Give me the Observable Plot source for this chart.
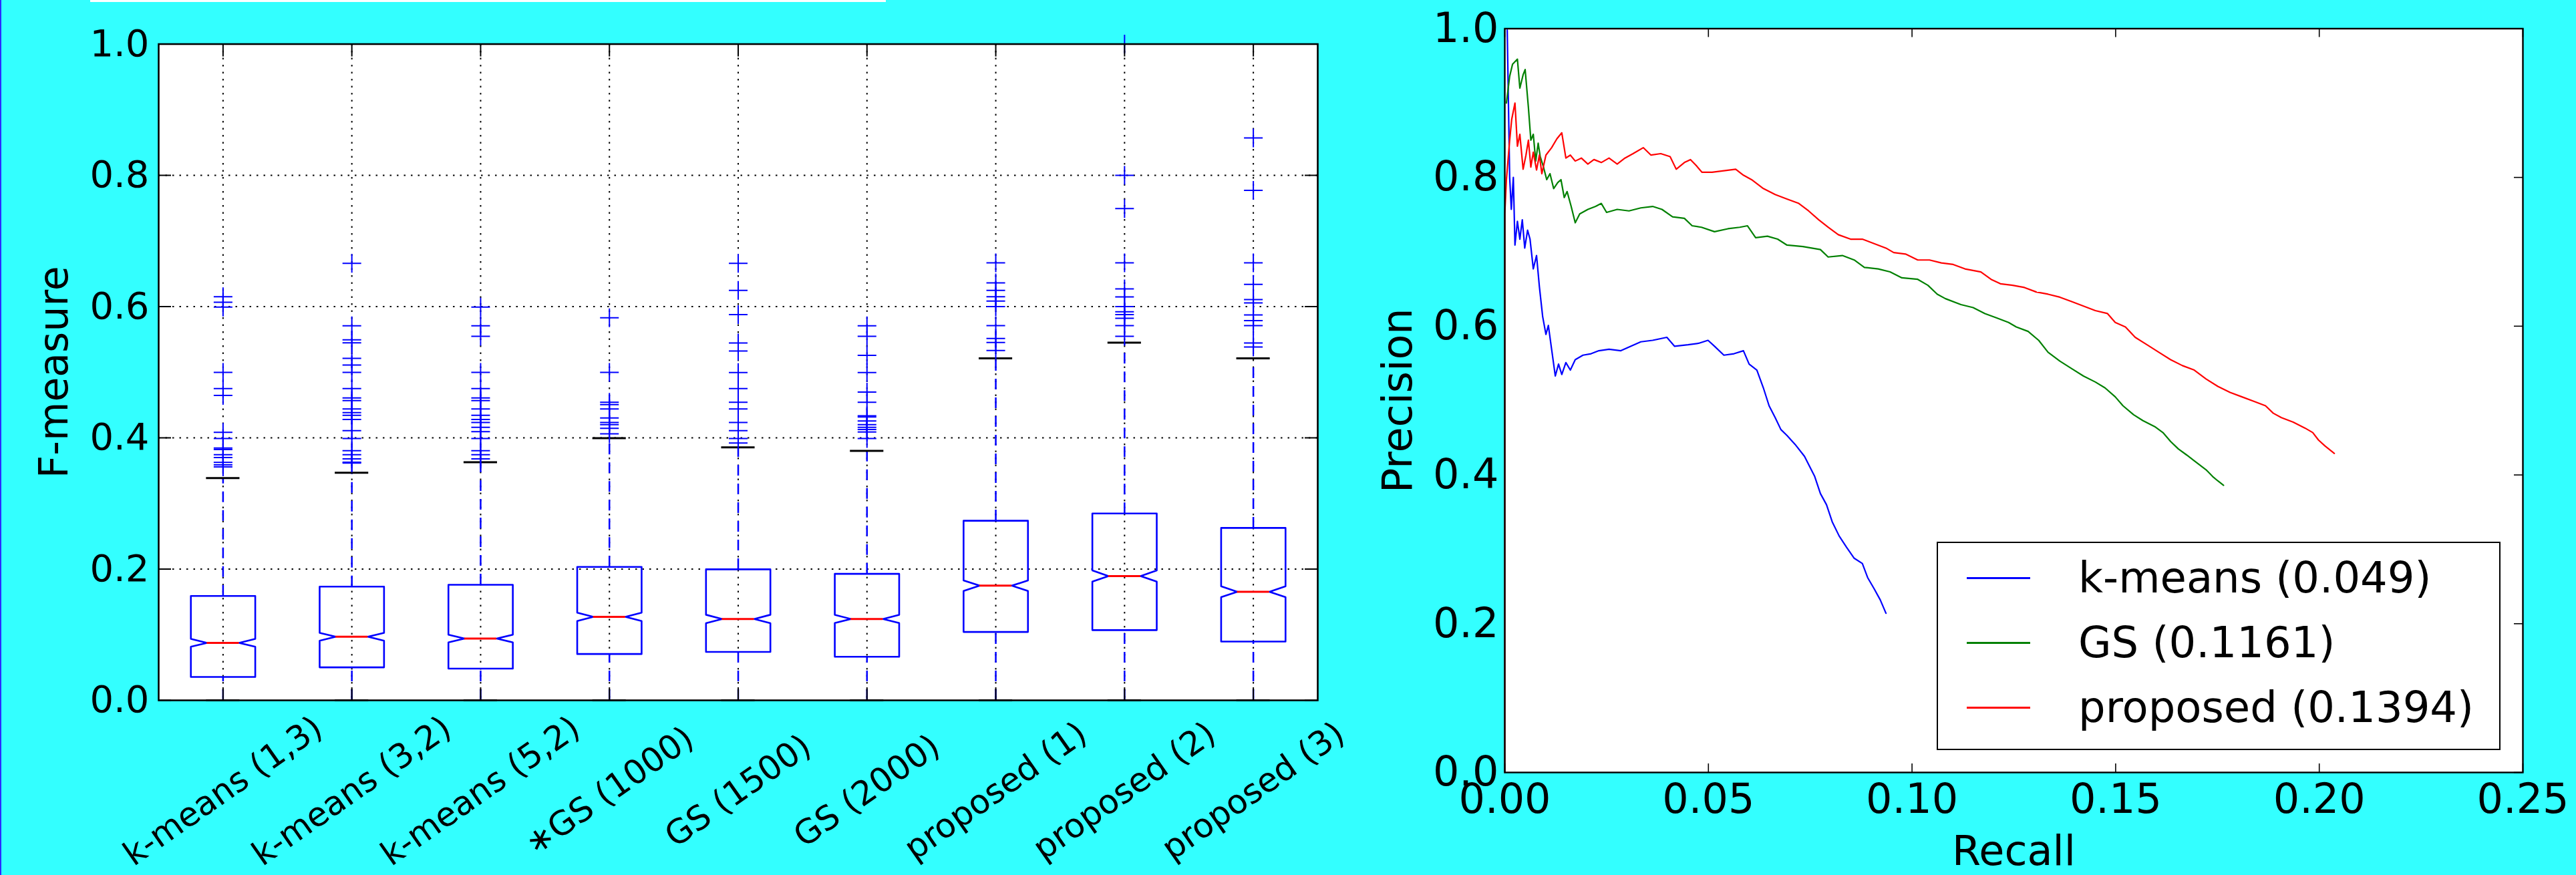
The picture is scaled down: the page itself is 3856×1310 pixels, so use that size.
<!DOCTYPE html>
<html>
<head>
<meta charset="utf-8">
<script src="https://cdn.jsdelivr.net/npm/d3@7"></script>
<script src="https://cdn.jsdelivr.net/npm/@observablehq/plot@0.6"></script>
<style>
html, body { margin: 0; padding: 0; background: #33ffff; }
#page { position: relative; width: 3856px; height: 1310px; overflow: hidden; background: #33ffff; font-family: "DejaVu Sans", sans-serif; }
#left { position: absolute; left: 0; top: 0; }
#right { position: absolute; left: 2000px; top: 0; }
#edge { position: absolute; left: 0; top: 0; width: 2px; height: 1310px; background: #2a2aff; }
#whitebar { position: absolute; left: 135px; top: 0; width: 1191px; height: 3px; background: #ffffff; }
#legend { position: absolute; left: 2899px; top: 811px; width: 844px; height: 312px; box-sizing: border-box; border: 2.5px solid #000; background: #fff; }
.swatch { position: absolute; left: 43px; width: 95px; height: 3px; }
.ltext { position: absolute; left: 210px; height: 80px; line-height: 80px; font-size: 64px; color: #000; white-space: nowrap; font-family: "DejaVu Sans", sans-serif; }
</style>
</head>
<body>
<div id="page">
  <div id="left"></div>
  <div id="right"></div>
  <div id="legend"></div>
  <div id="whitebar"></div>
  <div id="edge"></div>
</div>
<script>
// ---------------- Left chart data (boxplots of F-measure) ----------------
const categories = ["k-means (1,3)", "k-means (3,2)", "k-means (5,2)", "\u2217GS (1000)", "GS (1500)", "GS (2000)", "proposed (1)", "proposed (2)", "proposed (3)"];
const q1 =        [0.0356, 0.0503, 0.0484, 0.0706, 0.0738, 0.0664, 0.1042, 0.1070, 0.0895];
const medians =   [0.0876, 0.0969, 0.0941, 0.1273, 0.1240, 0.1240, 0.1747, 0.1894, 0.1655];
const q3 =        [0.1590, 0.1733, 0.1761, 0.2033, 0.1996, 0.1927, 0.2737, 0.2848, 0.2627];
const whiskerHi = [0.3388, 0.3469, 0.3628, 0.3995, 0.3856, 0.3801, 0.5212, 0.5450, 0.5212];
const whiskerLo = [0, 0, 0, 0, 0, 0, 0, 0, 0];
const notchHalf = [0.0060, 0.0060, 0.0058, 0.0064, 0.0064, 0.0063, 0.0081, 0.0085, 0.0083];
const fliers = [
  [0.6151, 0.6066, 0.5992, 0.4998, 0.4751, 0.4646, 0.4083, 0.3991, 0.3845, 0.3822, 0.3744, 0.3700, 0.3625, 0.3588, 0.3557],
  [0.6660, 0.5707, 0.5493, 0.5449, 0.5212, 0.5110, 0.4998, 0.4751, 0.4608, 0.4568, 0.4439, 0.4385, 0.4344, 0.4279, 0.4110, 0.3991, 0.3805, 0.3744, 0.3679, 0.3628, 0.3615],
  [0.5992, 0.5707, 0.5548, 0.4998, 0.4751, 0.4608, 0.4568, 0.4439, 0.4344, 0.4279, 0.4235, 0.4161, 0.4093, 0.3991, 0.3805, 0.3744, 0.3679],
  [0.5829, 0.4998, 0.4541, 0.4507, 0.4439, 0.4303, 0.4235, 0.4201, 0.4144, 0.4062],
  [0.6660, 0.6246, 0.5877, 0.5446, 0.5324, 0.4995, 0.4751, 0.4541, 0.4439, 0.4235, 0.4110, 0.3991, 0.3920],
  [0.5707, 0.5548, 0.5256, 0.4995, 0.4697, 0.4541, 0.4337, 0.4317, 0.4256, 0.4201, 0.4161, 0.4127, 0.4090, 0.3991],
  [0.6667, 0.6361, 0.6246, 0.6151, 0.6083, 0.5999, 0.5710, 0.5514, 0.5453, 0.5331],
  [1.0000, 0.7999, 0.7494, 0.6667, 0.6270, 0.6148, 0.5999, 0.5921, 0.5877, 0.5822, 0.5710, 0.5547],
  [0.8569, 0.7772, 0.6667, 0.6338, 0.6107, 0.6056, 0.5873, 0.5785, 0.5710, 0.5446, 0.5385]
];
const fTicks = [0, 0.2, 0.4, 0.6, 0.8, 1.0];
const fGrid = [0.2, 0.4, 0.6, 0.8];

// ---------------- Right chart data (precision-recall curves) ----------------
const seriesNames = ["k-means (0.049)", "GS (0.1161)", "proposed (0.1394)"];
const seriesColors = ["#0000ff", "#008000", "#ff0000"];
const kmeansPR = [
  [0.0006,0.998],[0.0012,0.80],[0.0016,0.757],[0.0021,0.80],[0.0025,0.709],[0.0031,0.741],[0.0037,0.717],[0.0043,0.743],
  [0.0049,0.705],[0.0056,0.729],[0.0062,0.717],[0.0070,0.677],[0.0078,0.695],[0.0085,0.653],[0.0093,0.613],[0.0101,0.589],
  [0.0107,0.601],[0.0115,0.569],[0.0124,0.533],[0.0132,0.549],[0.0140,0.535],[0.0150,0.551],[0.0161,0.541],[0.0173,0.555],
  [0.0192,0.561],[0.0212,0.563],[0.0231,0.567],[0.0256,0.569],[0.0285,0.567],[0.0309,0.573],[0.0334,0.579],[0.0363,0.581],
  [0.0398,0.585],[0.0417,0.573],[0.0450,0.575],[0.0476,0.577],[0.0499,0.581],[0.0515,0.573],[0.0538,0.561],[0.0563,0.563],
  [0.0586,0.567],[0.0600,0.549],[0.0619,0.541],[0.0635,0.517],[0.0649,0.493],[0.0664,0.477],[0.0678,0.461],[0.0693,0.453],
  [0.0713,0.441],[0.0736,0.425],[0.0761,0.398],[0.0775,0.375],[0.0790,0.360],[0.0804,0.337],[0.0821,0.318],[0.0839,0.303],
  [0.0858,0.288],[0.0878,0.281],[0.0891,0.262],[0.0907,0.247],[0.0922,0.232],[0.0936,0.214]
];
const gsPR = [
  [0.0004,0.90],[0.0012,0.936],[0.0019,0.952],[0.0031,0.959],[0.0037,0.920],[0.0045,0.938],[0.0050,0.945],[0.0058,0.894],
  [0.0064,0.850],[0.0070,0.858],[0.0076,0.822],[0.0082,0.846],[0.0087,0.828],[0.0095,0.814],[0.0103,0.797],[0.0111,0.805],
  [0.0120,0.785],[0.0130,0.793],[0.0138,0.797],[0.0146,0.773],[0.0153,0.781],[0.0163,0.761],[0.0173,0.739],[0.0184,0.751],
  [0.0204,0.757],[0.0223,0.761],[0.0237,0.765],[0.0250,0.753],[0.0276,0.757],[0.0305,0.755],[0.0334,0.759],[0.0363,0.761],
  [0.0386,0.757],[0.0412,0.747],[0.0441,0.745],[0.0460,0.735],[0.0483,0.733],[0.0515,0.727],[0.0548,0.731],[0.0577,0.733],
  [0.0596,0.735],[0.0616,0.719],[0.0645,0.721],[0.0670,0.717],[0.0693,0.709],[0.0732,0.707],[0.0775,0.703],[0.0794,0.693],
  [0.0829,0.695],[0.0858,0.689],[0.0883,0.679],[0.0917,0.677],[0.0946,0.673],[0.0975,0.665],[0.1014,0.663],[0.1039,0.655],
  [0.1062,0.643],[0.1082,0.637],[0.1120,0.629],[0.1150,0.625],[0.1179,0.617],[0.1208,0.611],[0.1237,0.605],[0.1256,0.599],
  [0.1285,0.593],[0.1311,0.581],[0.1334,0.565],[0.1363,0.553],[0.1392,0.543],[0.1421,0.533],[0.1450,0.525],[0.1474,0.517],
  [0.1499,0.505],[0.1518,0.493],[0.1544,0.481],[0.1567,0.473],[0.1596,0.465],[0.1616,0.457],[0.1635,0.445],[0.1654,0.435],
  [0.1674,0.427],[0.1693,0.419],[0.1722,0.407],[0.1738,0.398],[0.1751,0.392],[0.1765,0.386]
];
const proposedPR = [
  [0.0000,0.000],[0.0000,0.751],[0.0004,0.797],[0.0012,0.850],[0.0017,0.878],[0.0025,0.900],[0.0031,0.842],[0.0037,0.858],
  [0.0045,0.811],[0.0052,0.830],[0.0058,0.850],[0.0064,0.814],[0.0070,0.834],[0.0078,0.810],[0.0085,0.830],[0.0091,0.805],
  [0.0101,0.830],[0.0115,0.840],[0.0128,0.852],[0.0140,0.860],[0.0150,0.826],[0.0161,0.830],[0.0173,0.822],[0.0188,0.826],
  [0.0204,0.818],[0.0219,0.824],[0.0237,0.820],[0.0256,0.826],[0.0276,0.818],[0.0295,0.826],[0.0315,0.832],[0.0340,0.840],
  [0.0359,0.830],[0.0383,0.832],[0.0406,0.828],[0.0421,0.811],[0.0441,0.820],[0.0456,0.824],[0.0470,0.816],[0.0484,0.807],
  [0.0509,0.807],[0.0538,0.809],[0.0567,0.811],[0.0586,0.803],[0.0606,0.797],[0.0635,0.785],[0.0664,0.777],[0.0693,0.771],
  [0.0722,0.765],[0.0746,0.755],[0.0771,0.743],[0.0794,0.733],[0.0819,0.723],[0.0849,0.717],[0.0878,0.717],[0.0907,0.711],
  [0.0936,0.705],[0.0955,0.699],[0.0984,0.697],[0.1014,0.689],[0.1043,0.689],[0.1072,0.685],[0.1101,0.683],[0.1130,0.677],
  [0.1169,0.673],[0.1194,0.663],[0.1217,0.657],[0.1247,0.655],[0.1276,0.652],[0.1305,0.646],[0.1334,0.643],[0.1363,0.639],
  [0.1392,0.633],[0.1421,0.627],[0.1450,0.621],[0.1480,0.617],[0.1499,0.605],[0.1524,0.599],[0.1548,0.585],[0.1577,0.575],
  [0.1606,0.565],[0.1635,0.555],[0.1664,0.547],[0.1693,0.541],[0.1722,0.529],[0.1751,0.519],[0.1781,0.511],[0.1810,0.505],
  [0.1839,0.499],[0.1868,0.493],[0.1887,0.483],[0.1907,0.477],[0.1936,0.471],[0.1965,0.463],[0.1984,0.457],[0.1998,0.447],
  [0.2014,0.439],[0.2037,0.429]
];
const recallTicks = [0, 0.05, 0.10, 0.15, 0.20, 0.25];
const precisionTicks = [0, 0.2, 0.4, 0.6, 0.8, 1.0];

// ---------------- Derived tables ----------------
const boxes = categories.map((c, i) => ({
  name: c, pos: i + 1, q1: q1[i], median: medians[i], q3: q3[i],
  hi: whiskerHi[i], lo: whiskerLo[i], notch: notchHalf[i]
}));
const boxHalf = 0.25, notchInner = 0.125, capHalf = 0.13;
const outline = [];
boxes.forEach(b => {
  const L = b.pos - boxHalf, R = b.pos + boxHalf;
  const pts = [
    [L, b.q1], [R, b.q1], [R, b.median - b.notch], [b.pos + notchInner, b.median], [R, b.median + b.notch],
    [R, b.q3], [L, b.q3], [L, b.median + b.notch], [b.pos - notchInner, b.median], [L, b.median - b.notch], [L, b.q1]
  ];
  pts.forEach(([x, y]) => outline.push({box: b.name, x, y}));
});
const flierPoints = fliers.flatMap((arr, i) => arr.map(v => ({pos: i + 1, v})));

const plusSymbol = {
  draw(context, size) {
    const r = Math.sqrt(size / Math.PI);
    context.moveTo(-r, 0); context.lineTo(r, 0);
    context.moveTo(0, -r); context.lineTo(0, r);
  }
};

// ---------------- Left chart ----------------
const W1 = 1990, H1 = 1310, ML1 = 237, MR1 = 18, MT1 = 65.5, MB1 = 262;
const FW1 = W1 - ML1 - MR1, FH1 = H1 - MT1 - MB1;
const T1 = 19;
const fmt1 = d3.format(".1f");
const gridStyle = {stroke: "black", strokeWidth: 2, strokeDasharray: "2.5,8"};

const left = Plot.plot({
  width: W1, height: H1,
  marginLeft: ML1, marginRight: MR1, marginTop: MT1, marginBottom: MB1,
  style: {background: "transparent", overflow: "visible", fontFamily: "DejaVu Sans", maxWidth: "none"},
  x: {type: "linear", domain: [0.5, categories.length + 0.5], axis: null},
  y: {type: "linear", domain: [0, 1], axis: null},
  marks: [
    Plot.frame({fill: "white", stroke: "none"}),
    Plot.ruleY(fGrid, {y: d => d, ...gridStyle}),
    Plot.ruleX(boxes, {x: "pos", ...gridStyle}),
    Plot.ruleX(boxes, {x: "pos", y1: "q3", y2: "hi", stroke: "#0000ff", strokeWidth: 2.5, strokeDasharray: "16,12"}),
    Plot.ruleX(boxes, {x: "pos", y1: "lo", y2: "q1", stroke: "#0000ff", strokeWidth: 2.5, strokeDasharray: "16,12"}),
    Plot.ruleY(boxes, {y: "hi", x1: d => d.pos - capHalf, x2: d => d.pos + capHalf, stroke: "black", strokeWidth: 3}),
    Plot.ruleY(boxes, {y: "lo", x1: d => d.pos - capHalf, x2: d => d.pos + capHalf, stroke: "black", strokeWidth: 3}),
    Plot.line(outline, {x: "x", y: "y", z: "box", stroke: "#0000ff", strokeWidth: 2.6, curve: "linear"}),
    Plot.ruleY(boxes, {y: "median", x1: d => d.pos - notchInner, x2: d => d.pos + notchInner, stroke: "#ff0000", strokeWidth: 3}),
    Plot.dot(flierPoints, {x: "pos", y: "v", r: 14, symbol: plusSymbol, stroke: "#0000ff", fill: "none", strokeWidth: 2}),
    Plot.frame({stroke: "black", strokeWidth: 2.6, fill: "none"}),
    Plot.tickY(fTicks, {y: d => d, insetRight: FW1 - T1, stroke: "black", strokeWidth: 2}),
    Plot.tickY(fTicks, {y: d => d, insetLeft: FW1 - T1, stroke: "black", strokeWidth: 2}),
    Plot.tickX(boxes, {x: "pos", insetTop: FH1 - T1, stroke: "black", strokeWidth: 2}),
    Plot.tickX(boxes, {x: "pos", insetBottom: FH1 - T1, stroke: "black", strokeWidth: 2}),
    Plot.text(fTicks, {y: d => d, text: d => fmt1(d), frameAnchor: "left", dx: -14, textAnchor: "end", lineAnchor: "middle", fontSize: 56, fill: "black"}),
    Plot.text(boxes, {x: "pos", text: "name", frameAnchor: "bottom", dy: 136, rotate: -35, textAnchor: "middle", lineAnchor: "middle", fontSize: 50, fill: "black"}),
    Plot.text(["F-measure"], {text: d => d, frameAnchor: "left", dx: -137, rotate: -90, textAnchor: "middle", lineAnchor: "bottom", fontSize: 60, fill: "black"})
  ]
});
document.getElementById("left").appendChild(left);

// ---------------- Right chart ----------------
const W2 = 1856, H2 = 1310, ML2 = 252, MR2 = 80, MT2 = 42.4, MB2 = 154;
const FW2 = W2 - ML2 - MR2, FH2 = H2 - MT2 - MB2;
const T2 = 13;
const fmt2 = d3.format(".2f");
const curves = [kmeansPR, gsPR, proposedPR];

const right = Plot.plot({
  width: W2, height: H2,
  marginLeft: ML2, marginRight: MR2, marginTop: MT2, marginBottom: MB2,
  style: {background: "transparent", overflow: "visible", fontFamily: "DejaVu Sans", maxWidth: "none"},
  x: {type: "linear", domain: [0, 0.25], axis: null},
  y: {type: "linear", domain: [0, 1], axis: null},
  marks: [
    Plot.frame({fill: "white", stroke: "none"}),
    ...curves.map((c, i) => Plot.line(c, {x: d => d[0], y: d => d[1], stroke: seriesColors[i], strokeWidth: 2.2, curve: "linear"})),
    Plot.frame({stroke: "black", strokeWidth: 2.4, fill: "none"}),
    Plot.tickX(recallTicks, {x: d => d, insetTop: FH2 - T2, stroke: "black", strokeWidth: 1.6}),
    Plot.tickX(recallTicks, {x: d => d, insetBottom: FH2 - T2, stroke: "black", strokeWidth: 1.6}),
    Plot.tickY(precisionTicks, {y: d => d, insetLeft: FW2 - T2, stroke: "black", strokeWidth: 1.6}),
    Plot.text(recallTicks, {x: d => d, text: d => fmt2(d), frameAnchor: "bottom", dy: 16, textAnchor: "middle", lineAnchor: "top", fontSize: 62, fill: "black"}),
    Plot.text(precisionTicks, {y: d => d, text: d => fmt1(d), frameAnchor: "left", dx: -9, textAnchor: "end", lineAnchor: "middle", fontSize: 62, fill: "black"}),
    Plot.text(["Recall"], {text: d => d, frameAnchor: "bottom", dy: 138, textAnchor: "middle", lineAnchor: "bottom", fontSize: 62, fill: "black"}),
    Plot.text(["Precision"], {text: d => d, frameAnchor: "left", dx: -140, rotate: -90, textAnchor: "middle", lineAnchor: "bottom", fontSize: 62, fill: "black"})
  ]
});
document.getElementById("right").appendChild(right);

// ---------------- Legend (HTML) ----------------
const legendEl = document.getElementById("legend");
seriesNames.forEach((name, i) => {
  const rowCenter = 52 + i * 97;
  const sw = document.createElement("div");
  sw.className = "swatch";
  sw.style.top = (rowCenter - 1.5) + "px";
  sw.style.background = seriesColors[i];
  legendEl.appendChild(sw);
  const tx = document.createElement("div");
  tx.className = "ltext";
  tx.style.top = (rowCenter - 40) + "px";
  tx.textContent = name;
  legendEl.appendChild(tx);
});
</script>
</body>
</html>
